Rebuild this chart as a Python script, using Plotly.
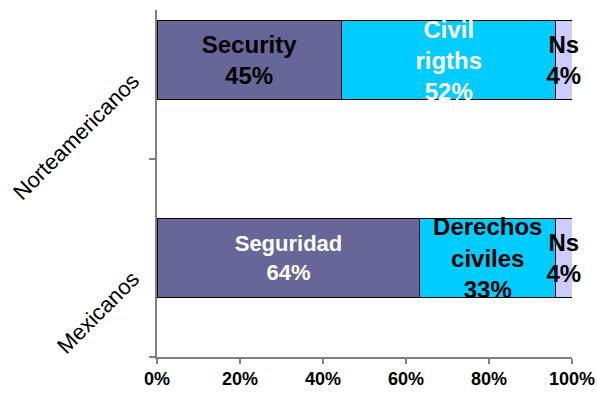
import plotly.graph_objects as go

# Survey groups (bottom to top) and their answer shares
groups = ["Mexicanos", "Norteamericanos"]
security = [64, 45]
civil_rights = [33, 52]
ns = [4, 4]

security_text = ["Seguridad<br>64%", "Security<br>45%"]
civil_text = ["Derechos<br>civiles<br>33%", "Civil<br>rigths<br>52%"]
ns_text = ["Ns<br>4%", "Ns<br>4%"]

x_ticks = [0, 20, 40, 60, 80, 100]
x_tick_labels = ["0%", "20%", "40%", "60%", "80%", "100%"]

FONT = "Liberation Sans, Arial, sans-serif"


def segment(values, labels, color, text_colors, text_sizes):
    return go.Bar(
        y=groups,
        x=values,
        orientation="h",
        text=labels,
        textposition="inside",
        insidetextanchor="middle",
        textangle=0,
        constraintext="none",
        cliponaxis=False,
        textfont=dict(family=FONT, size=text_sizes, color=text_colors, weight="bold"),
        marker=dict(color=color, line=dict(color="#000000", width=1)),
        hoverinfo="skip",
    )


fig = go.Figure()
fig.add_trace(segment(security, security_text, "#666699", ["#FFFFFF", "#000000"], [22, 24]))
fig.add_trace(segment(civil_rights, civil_text, "#00CCFF", ["#000000", "#FFFFFF"], [24, 24]))
fig.add_trace(segment(ns, ns_text, "#CCCCFF", ["#000000", "#000000"], [24, 24]))

fig.update_layout(
    width=597,
    height=394,
    barmode="stack",
    barnorm="percent",
    bargap=0.6,
    showlegend=False,
    plot_bgcolor="#FFFFFF",
    paper_bgcolor="#FFFFFF",
    margin=dict(l=157, r=25, t=10, b=37),
    font=dict(family=FONT, color="#000000"),
)

fig.update_xaxes(
    range=[0, 100],
    tickvals=x_ticks,
    ticktext=x_tick_labels,
    tickfont=dict(family=FONT, size=18, weight="bold"),
    ticks="outside",
    ticklen=5,
    tickcolor="#808080",
    tickwidth=1.5,
    showline=True,
    linecolor="#808080",
    linewidth=1.5,
    showgrid=False,
    zeroline=False,
    automargin=False,
    fixedrange=True,
)

fig.update_yaxes(
    type="category",
    range=[-0.5, 1.254],
    tickson="boundaries",
    ticks="outside",
    ticklen=6,
    tickcolor="#808080",
    tickwidth=1.5,
    tickangle=-45,
    tickfont=dict(family=FONT, size=22),
    ticklabelstandoff=18,
    ticklabelshift=18,
    showline=True,
    linecolor="#808080",
    linewidth=1.5,
    showgrid=False,
    zeroline=False,
    automargin=False,
    fixedrange=True,
)

fig.write_html("out.html")
